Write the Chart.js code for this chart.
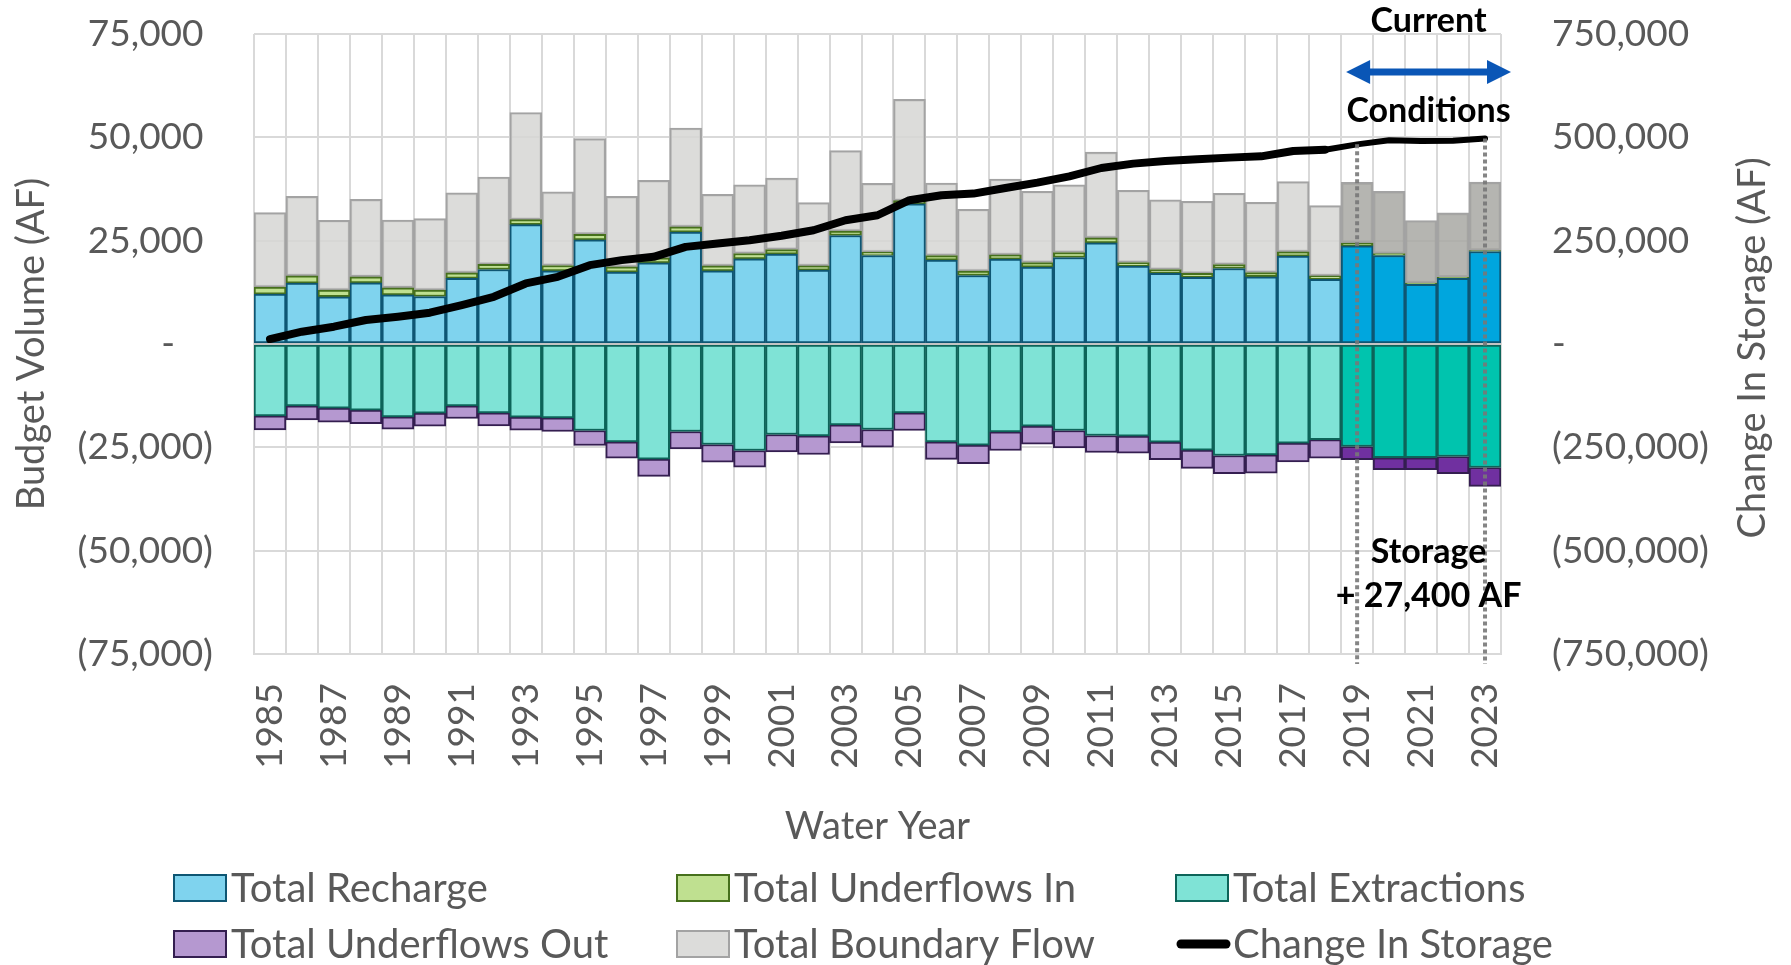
<!DOCTYPE html>
<html>
<head>
<meta charset="utf-8">
<title>Water Budget</title>
<script src="https://cdn.jsdelivr.net/npm/chart.js@4.4.1/dist/chart.umd.min.js"></script>
<style>
  html, body { margin: 0; padding: 0; background: #ffffff; }
  canvas { display: block; }
</style>
</head>
<body>
<canvas id="budgetChart" width="1791" height="965"></canvas>
<script>
// Water years on the category axis
const years = ['1985', '1986', '1987', '1988', '1989', '1990', '1991', '1992', '1993', '1994',
  '1995', '1996', '1997', '1998', '1999', '2000', '2001', '2002', '2003', '2004',
  '2005', '2006', '2007', '2008', '2009', '2010', '2011', '2012', '2013', '2014',
  '2015', '2016', '2017', '2018', '2019', '2020', '2021', '2022', '2023'];

// Inflows (AF)
const totalRecharge = [12080, 14730, 11430, 14800, 11900, 11500, 15860, 18030, 28900, 17700,
  25200, 17390, 19640, 27050, 17700, 20600, 21730, 17870, 26240, 21410,
  33890, 20290, 16580, 20530, 18600, 20930, 24470, 18840, 17070, 16100,
  18270, 16260, 21250, 15620, 23750, 21420, 14410, 15860, 22380];
const totalUnderflowsIn = [1690, 1770, 1610, 1460, 1700, 1540, 1340, 1220, 1200, 1300,
  1360, 1280, 1200, 1280, 1200, 1300, 1140, 1030, 1050, 810,
  810, 1120, 1050, 1040, 1120, 1210, 1210, 880, 960, 970,
  970, 1040, 1050, 880, 640, 480, 320, 250, 200];
const totalBoundaryFlow = [18030, 19200, 16910, 18740, 16400, 17310, 19350, 21150, 25900, 17800,
  23140, 17030, 18760, 23920, 17300, 16600, 17280, 15320, 19480, 16660,
  24470, 17550, 14970, 18360, 17230, 16360, 20760, 17470, 16830, 17470,
  17230, 17000, 16990, 16990, 14730, 15050, 15140, 15600, 16620];

// Outflows (AF)
const totalExtractions = [-17390, -14970, -15530, -16010, -17630, -16740, -14970, -16660, -17710, -17870,
  -20930, -23670, -27850, -21170, -24310, -25760, -21900, -22220, -19560, -20690,
  -16660, -23670, -24470, -21250, -19880, -20930, -22140, -22300, -23750, -25680,
  -26970, -26810, -23990, -23140, -24790, -27530, -27530, -27210, -29870];
const totalUnderflowsOut = [-3380, -3380, -3380, -3240, -2980, -3140, -3060, -3140, -3140, -3300,
  -3620, -3940, -4190, -4190, -4270, -4020, -4180, -4510, -4350, -4260,
  -4270, -4260, -4510, -4510, -4350, -4190, -4100, -4100, -4260, -4430,
  -4430, -4420, -4510, -4510, -3220, -2900, -2900, -4190, -4590];

// Cumulative change in storage (AF), right axis
const changeInStorage = [12000, 29800, 41900, 58000, 66000, 75700, 94200, 114300, 146500, 162600,
  190800, 202900, 210900, 235000, 243100, 251200, 262000, 275300, 299500, 311500,
  347800, 359900, 363900, 377500, 390500, 405700, 425800, 436400, 442700, 446800,
  450900, 454000, 466800, 470000, 483000, 492700, 491000, 491900, 497400];

const currentFrom = '2019';
const currentTo = '2023';
const storageNote = '+ 27,400 AF';

const axisGray = '#595959';
const gridGray = '#d9d9d9';

const isCurrent = (ctx) => years[ctx.dataIndex] >= currentFrom;
const pick = (light, dark) => (ctx) => isCurrent(ctx) ? dark : light;

function budgetTick(value) {
  if (value === 0) return '-    ';
  const s = Math.abs(value).toLocaleString('en-US');
  return value < 0 ? '(' + s + ')' : s + ' ';
}

function storageTick(value) {
  if (value === 0) return '-';
  const s = Math.abs(value).toLocaleString('en-US');
  return value < 0 ? '(' + s + ')' : s;
}

// keep the tick padding from pushing the plot area down
function fixAxis(width) {
  return function (scale) {
    scale.width = width;
    scale.paddingTop = 0;
    scale.paddingBottom = 0;
  };
}

// zero axis line sits above the bars but under the storage line
const zeroLinePlugin = {
  id: 'zeroLine',
  beforeDatasetDraw(chart, args) {
    if (args.meta.type !== 'line') return;
    const { ctx, chartArea, scales } = chart;
    const y0 = scales.y.getPixelForValue(0);
    ctx.save();
    ctx.strokeStyle = '#c4c4c4';
    ctx.lineWidth = 2;
    ctx.beginPath();
    ctx.moveTo(chartArea.left, y0);
    ctx.lineTo(chartArea.right, y0);
    ctx.stroke();
    ctx.restore();
  }
};

// dotted markers, arrow and the notes about current conditions
const currentConditionsPlugin = {
  id: 'currentConditions',
  afterDatasetsDraw(chart) {
    const { ctx, chartArea, scales } = chart;
    ctx.save();
    ctx.strokeStyle = 'rgba(120,120,120,0.9)';
    ctx.lineWidth = 4;
    ctx.setLineDash([4, 3]);
    [currentFrom, currentTo].forEach((yr) => {
      const i = years.indexOf(yr);
      const x = scales.x.getPixelForValue(i);
      const yTop = scales.y1.getPixelForValue(changeInStorage[i]);
      ctx.beginPath();
      ctx.moveTo(x, yTop);
      ctx.lineTo(x, chartArea.bottom + 10);
      ctx.stroke();
    });
    ctx.restore();
  },
  afterDraw(chart) {
    const { ctx, chartArea, scales } = chart;
    const iFrom = years.indexOf(currentFrom);
    const half = (scales.x.getPixelForValue(1) - scales.x.getPixelForValue(0)) / 2;
    const x1 = scales.x.getPixelForValue(iFrom) - half + 5;
    const x2 = chartArea.right + 10;
    const cx = (x1 + x2) / 2;
    const ay = chartArea.top + 38;

    ctx.save();
    ctx.fillStyle = '#0a56b6';
    ctx.strokeStyle = '#0a56b6';
    ctx.lineWidth = 7;
    ctx.beginPath();
    ctx.moveTo(x1 + 20, ay);
    ctx.lineTo(x2 - 20, ay);
    ctx.stroke();
    ctx.beginPath();
    ctx.moveTo(x1, ay);
    ctx.lineTo(x1 + 24, ay - 12);
    ctx.lineTo(x1 + 24, ay + 12);
    ctx.closePath();
    ctx.fill();
    ctx.beginPath();
    ctx.moveTo(x2, ay);
    ctx.lineTo(x2 - 24, ay - 12);
    ctx.lineTo(x2 - 24, ay + 12);
    ctx.closePath();
    ctx.fill();

    ctx.fillStyle = '#000000';
    ctx.font = 'bold 34px Lato';
    ctx.textAlign = 'center';
    ctx.textBaseline = 'alphabetic';
    ctx.fillText('Current', cx, chartArea.top - 2);
    ctx.fillText('Conditions', cx, chartArea.top + 88);
    ctx.fillText('Storage', cx, chartArea.top + 529);
    ctx.fillText(storageNote, cx, chartArea.top + 573);

    // right axis title reads bottom to top, like the left one
    ctx.fillStyle = axisGray;
    ctx.font = '38px Lato';
    ctx.translate(1753, (chartArea.top + chartArea.bottom) / 2 + 4);
    ctx.rotate(-Math.PI / 2);
    ctx.textBaseline = 'middle';
    ctx.fillText('Change In Storage (AF)', 0, 0);
    ctx.restore();
  }
};

// three-column legend drawn under the axis title
const gridLegendPlugin = {
  id: 'gridLegend',
  afterDraw(chart) {
    const { ctx } = chart;
    const cols = [174, 677, 1176];
    const rows = [888, 944];
    ctx.save();
    ctx.font = '40px Lato';
    ctx.textAlign = 'left';
    ctx.textBaseline = 'alphabetic';
    chart.data.datasets.forEach((ds, i) => {
      const x = cols[i % 3];
      const y = rows[Math.floor(i / 3)];
      if (ds.type === 'line') {
        ctx.strokeStyle = ds.borderColor;
        ctx.lineWidth = 9;
        ctx.lineCap = 'round';
        ctx.beginPath();
        ctx.moveTo(x + 5, y);
        ctx.lineTo(x + 50, y);
        ctx.stroke();
      } else {
        ctx.fillStyle = ds.legendFill;
        ctx.strokeStyle = ds.borderColor;
        ctx.lineWidth = 2;
        ctx.fillRect(x, y - 13, 52, 26);
        ctx.strokeRect(x, y - 13, 52, 26);
      }
      ctx.fillStyle = axisGray;
      ctx.fillText(ds.label, x + 57, y + 14);
    });
    ctx.restore();
  }
};

Chart.defaults.font.family = 'Lato';

document.fonts.load('37px Lato').then(function () {
  const ctx = document.getElementById('budgetChart').getContext('2d');
  new Chart(ctx, {
    data: {
      labels: years,
      datasets: [{
        type: 'bar',
        label: 'Total Recharge',
        data: totalRecharge,
        backgroundColor: pick('#7fd3ee', '#00a6de'),
        legendFill: '#7fd3ee',
        borderColor: '#0e5673',
        borderWidth: 2,
        borderSkipped: false,
        yAxisID: 'y',
        order: 2
      }, {
        type: 'bar',
        label: 'Total Underflows In',
        data: totalUnderflowsIn,
        backgroundColor: pick('#bfe090', '#8cc152'),
        legendFill: '#bfe090',
        borderColor: '#46701c',
        borderWidth: 2,
        borderSkipped: false,
        yAxisID: 'y',
        order: 2
      }, {
        type: 'bar',
        label: 'Total Extractions',
        data: totalExtractions,
        backgroundColor: pick('#7fe3d6', '#00c4ae'),
        legendFill: '#7fe3d6',
        borderColor: '#0d6459',
        borderWidth: 2,
        borderSkipped: false,
        yAxisID: 'y',
        order: 2
      }, {
        type: 'bar',
        label: 'Total Underflows Out',
        data: totalUnderflowsOut,
        backgroundColor: pick('#b598d0', '#7030a0'),
        legendFill: '#b598d0',
        borderColor: '#341e50',
        borderWidth: 2,
        borderSkipped: false,
        yAxisID: 'y',
        order: 2
      }, {
        type: 'bar',
        label: 'Total Boundary Flow',
        data: totalBoundaryFlow,
        backgroundColor: pick('rgba(214,214,212,0.85)', 'rgba(168,168,163,0.85)'),
        legendFill: '#dcdcda',
        borderColor: '#a3a3a3',
        borderWidth: 2,
        borderSkipped: false,
        yAxisID: 'y',
        order: 2
      }, {
        type: 'line',
        label: 'Change In Storage',
        data: changeInStorage,
        yAxisID: 'y1',
        borderColor: '#000000',
        borderWidth: 8,
        borderCapStyle: 'round',
        borderJoinStyle: 'round',
        pointRadius: 0,
        tension: 0,
        order: 1,
        segment: {
          borderWidth: (c) => c.p0DataIndex >= years.indexOf(currentFrom) - 1 ? 6 : 8
        }
      }]
    },
    options: {
      responsive: false,
      animation: false,
      layout: { padding: { top: 34, right: 0, bottom: 0, left: 0 } },
      plugins: {
        legend: { display: false },
        tooltip: { enabled: false }
      },
      datasets: {
        bar: { categoryPercentage: 1.0, barPercentage: 1.0 }
      },
      scales: {
        x: {
          stacked: true,
          grid: { color: gridGray, lineWidth: 2, drawTicks: false, offset: true },
          border: { color: gridGray, width: 2 },
          ticks: {
            autoSkip: false,
            minRotation: 90,
            maxRotation: 90,
            padding: 29,
            color: axisGray,
            font: { size: 37 },
            callback: function (value, index) {
              return index % 2 === 0 ? this.getLabelForValue(value) : '';
            }
          },
          title: {
            display: true,
            text: 'Water Year',
            color: axisGray,
            font: { size: 38 },
            padding: { top: 0, bottom: 115 }
          },
          afterFit: (scale) => { scale.height = 311; }
        },
        y: {
          stacked: true,
          position: 'left',
          min: -75000,
          max: 75000,
          grid: { color: gridGray, lineWidth: 2, drawTicks: false },
          border: { display: false },
          ticks: {
            stepSize: 25000,
            padding: 41,
            color: axisGray,
            font: { size: 37 },
            callback: budgetTick
          },
          title: {
            display: true,
            text: 'Budget Volume (AF)',
            color: axisGray,
            font: { size: 38 },
            padding: { top: 9, bottom: 0 }
          },
          afterFit: fixAxis(254)
        },
        y1: {
          position: 'right',
          min: -750000,
          max: 750000,
          grid: { display: false, drawTicks: false },
          border: { display: false },
          ticks: {
            stepSize: 250000,
            padding: 51,
            color: axisGray,
            font: { size: 37 },
            callback: storageTick
          },
          afterFit: fixAxis(290)
        }
      }
    },
    plugins: [zeroLinePlugin, currentConditionsPlugin, gridLegendPlugin]
  });
});
</script>
</body>
</html>
